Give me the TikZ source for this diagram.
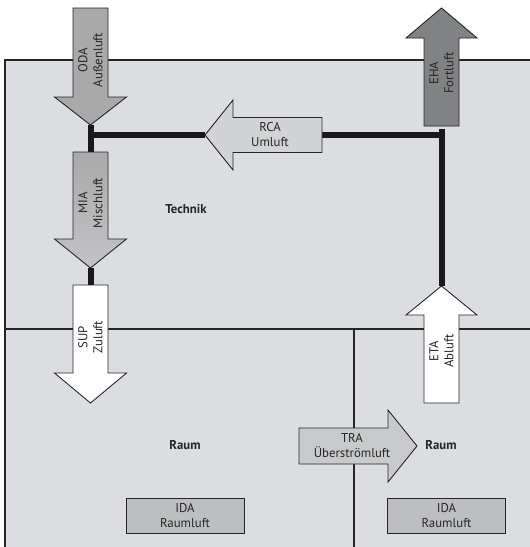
\documentclass[tikz,border=0pt]{standalone}
\usepackage{fontspec}
\setmainfont{PT Sans}
\begin{document}
\begin{tikzpicture}[x=1pt,y=-1pt,
  lbl/.style={font=\fontsize{12.8}{15}\selectfont, text=black!85, align=center, inner sep=0pt},
  bold/.style={font=\fontsize{12.8}{15}\selectfont\bfseries, text=black!85, inner sep=0pt},
  arrowshape/.style={draw=black!85, line width=0.9pt, line join=miter},
  duct/.style={line width=6pt, draw=black!90},
  wall/.style={line width=1.6pt, draw=black!85},
  idabox/.style={draw=black!85, line width=0.9pt, fill=idafill, minimum width=118pt, minimum height=35pt, lbl}
]
\definecolor{bgfill}{HTML}{DCDDE0}
\definecolor{odafill}{HTML}{A9A9AA}
\definecolor{rcafill}{HTML}{D2D3D5}
\definecolor{ehafill}{HTML}{818284}
\definecolor{trafill}{HTML}{C8C9CB}
\definecolor{idafill}{HTML}{BDBEC0}
\useasboundingbox (0,0) rectangle (530,547);
\clip (0,0) rectangle (530,547);
\fill[white] (0,0) rectangle (530,547);
% building
\draw[wall, fill=bgfill] (5,60) rectangle (540,560);
\draw[wall] (5,329) -- (540,329);
\draw[wall] (354,329) -- (354,560);
% named coordinates
\coordinate (odatip) at (90.5,125);
\coordinate (miatail) at (90.5,152);
\coordinate (miatip) at (90.5,268);
\coordinate (suptail) at (90.5,285);
\coordinate (junctionL) at (90.5,135);
\coordinate (rcatip) at (205,135);
\coordinate (rcatail) at (322,135);
\coordinate (junctionR) at (441.5,135);
\coordinate (ehatail) at (441.5,126);
\coordinate (etatip) at (441.5,286);
% ducts
\draw[duct] (odatip) -- (miatail);
\draw[duct] (junctionL) -- (rcatip);
\draw[duct] (rcatail) -- (junctionR);
\draw[duct] ([yshift=-3pt]ehatail) -- (etatip);
\draw[duct] (miatip) -- (suptail);
% ODA (down)
\draw[arrowshape, fill=odafill] (73,8) -- (108,8) -- (108,97) -- (126.5,97) -- (odatip) -- (54.5,97) -- (73,97) -- cycle;
\node[lbl, rotate=90] (oda) at (90.5,60) {ODA\\Außenluft};
% MIA (down)
\draw[arrowshape, top color=odafill, bottom color=odafill!50!bgfill] (73,152) -- (108,152) -- (108,239) -- (126.5,239) -- (miatip) -- (54.5,239) -- (73,239) -- cycle;
\node[lbl, rotate=90] (mia) at (90.5,203) {MIA\\Mischluft};
% SUP (down)
\draw[arrowshape, fill=white] (73,285) -- (108,285) -- (108,373) -- (126.5,373) -- (90.5,403) -- (54.5,373) -- (73,373) -- cycle;
\node[lbl, rotate=90] (sup) at (90.5,337) {SUP\\Zuluft};
% EHA (up)
\draw[arrowshape, fill=ehafill] (424,126) -- (459,126) -- (459,38) -- (477,38) -- (441.5,8) -- (406,38) -- (424,38) -- cycle;
\node[lbl, rotate=90] (eha) at (441.5,73) {EHA\\Fortluft};
% ETA (up)
\draw[arrowshape, fill=white] (424,403) -- (459,403) -- (459,315) -- (477,315) -- (etatip) -- (406,315) -- (424,315) -- cycle;
\node[lbl, rotate=90] (eta) at (441.5,351) {ETA\\Abluft};
% RCA (left)
\draw[arrowshape, fill=rcafill] (322,117.5) -- (322,152.5) -- (233,152.5) -- (233,170) -- (rcatip) -- (233,100) -- (233,117.5) -- cycle;
\node[lbl] (rca) at (270,135) {RCA\\Umluft};
% TRA (right)
\draw[arrowshape, fill=trafill] (299,428) -- (388,428) -- (388,410) -- (417,446) -- (388,482) -- (388,464) -- (299,464) -- cycle;
\node[lbl] (tra) at (352,446) {TRA\\Überströmluft};
% labels
\node[bold] (technik) at (186,209) {Technik};
\node[bold] (raumL) at (185,445) {Raum};
\node[bold] (raumR) at (441,445) {Raum};
\node[idabox] (idaL) at (185,515.5) {IDA\\Raumluft};
\node[idabox] (idaR) at (446.5,515.5) {IDA\\Raumluft};
\end{tikzpicture}
\end{document}
